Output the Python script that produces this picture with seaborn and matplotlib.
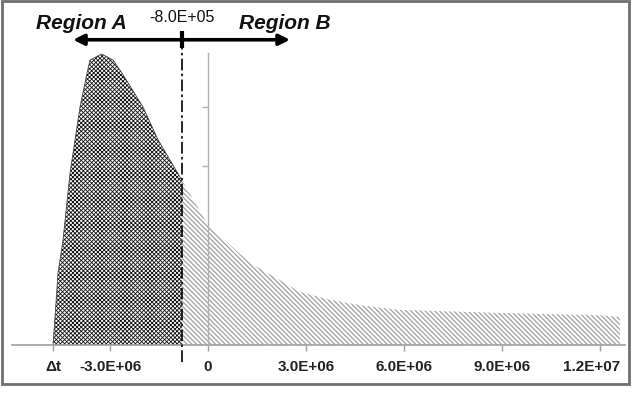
import numpy as np
import pandas as pd
import seaborn as sns
import matplotlib.pyplot as plt
from matplotlib.patches import Rectangle
from matplotlib.transforms import ScaledTranslation

# curve (time vs. density, arbitrary units)
t_vals = [-4.745e6, -4.662e6, -4.592e6, -4.439e6, -4.224e6, -3.918e6, -3.704e6,
          -3.612e6, -3.254e6, -2.908e6, -2.633e6, -1.990e6, -1.531e6, -0.8e6,
          0.0, 1.286e6, 2.204e6, 2.816e6, 3.735e6, 4.653e6, 5.878e6, 8.939e6,
          1.2e7, 1.261e7]
density = [0.0, 0.64, 1.21, 1.76, 2.89, 4.0, 4.57,
           4.79, 4.89, 4.79, 4.57, 4.0, 3.45, 2.77,
           2.02, 1.38, 1.09, 0.89, 0.76, 0.67, 0.59, 0.54,
           0.50, 0.47]
split_t = -8.0e5
dt_t = -4.745e6
tick_pos = [dt_t, -3.0e6, 0, 3.0e6, 6.0e6, 9.0e6, 1.2e7]
tick_labels = ["\u0394t", "-3.0E+06", "0", "3.0E+06", "6.0E+06", "9.0E+06", "1.2E+07"]
y_ticks = [1, 2, 3, 4]

df = pd.DataFrame({"t": t_vals, "d": density})
a = df[df["t"] <= split_t]
b = df[df["t"] >= split_t]

sns.set_theme(style="white")
plt.rcParams["font.family"] = ["Liberation Sans", "DejaVu Sans"]

fig = plt.figure(figsize=(6.32, 4.03), dpi=100)
ax = fig.add_axes([12 / 632, 58 / 403, 613 / 632, 315 / 403])

plt.rcParams["hatch.linewidth"] = 0.6
ax.fill_between(a["t"], 0, a["d"], facecolor="white", edgecolor="#111111",
                hatch="x" * 8, linewidth=0)
plt.rcParams["hatch.linewidth"] = 0.9
ax.fill_between(b["t"], 0, b["d"], facecolor="white", edgecolor="#a0a0a0",
                hatch="\\" * 7, linewidth=0)
sns.lineplot(data=a, x="t", y="d", color="#444444", lw=0.6, ax=ax, sort=False)

ax.set_xlim(-6.0e6, 1.2765e7)
ax.set_ylim(0, 5.294)

# axes styling
for s in ["top", "right"]:
    ax.spines[s].set_visible(False)
ax.spines["bottom"].set_color("#a0a0a0")
ax.spines["bottom"].set_linewidth(1.2)
ax.spines["left"].set_position(("data", 0))
ax.spines["left"].set_bounds(0, 4.9)
ax.spines["left"].set_color("#b0b0b0")
ax.spines["left"].set_linewidth(1.0)
ax.spines["left"].set_zorder(3)

ax.set_xticks(tick_pos)
ax.set_xticklabels(tick_labels, fontsize=11, fontweight="bold", color="#222222")
ax.tick_params(axis="x", direction="out", length=4, width=1, color="#a0a0a0", pad=7,
               bottom=True)
ax.set_yticks(y_ticks)
ax.set_yticklabels([])
ax.tick_params(axis="y", direction="out", length=4, width=1, color="#b0b0b0", left=True)
ax.set_xlabel("")
ax.set_ylabel("")
last = ax.get_xticklabels()[-1]
last.set_transform(last.get_transform() + ScaledTranslation(-8 / 100, 0, fig.dpi_scale_trans))

# split line and annotations
ax.plot([split_t, split_t], [-0.29, 5.13], color="black", lw=1.2,
        linestyle=(0, (7, 2, 1.5, 2)), clip_on=False, zorder=4)
ax.annotate("", xy=(-4.13e6, 5.13), xytext=(2.51e6, 5.13),
            arrowprops=dict(arrowstyle="<|-|>", lw=2.6, color="black",
                            mutation_scale=16, shrinkA=0, shrinkB=0),
            annotation_clip=False)
ax.plot([split_t, split_t], [4.99, 5.27], color="black", lw=3, clip_on=False,
        solid_capstyle="butt")
ax.text(-3.888e6, 5.41, "Region A", fontsize=15, fontweight="bold", style="italic",
        ha="center", va="center", color="#111111")
ax.text(2.357e6, 5.41, "Region B", fontsize=15, fontweight="bold", style="italic",
        ha="center", va="center", color="#111111")
ax.text(split_t, 5.5, "-8.0E+05", fontsize=11.5, ha="center", va="center",
        color="#111111")

# outer frame
fig.patches.append(Rectangle((2 / 632, 19 / 403), 627 / 632, 383 / 403,
                             transform=fig.transFigure, fill=False,
                             edgecolor="#707070", linewidth=2))

fig.savefig("out.png", dpi=100)
